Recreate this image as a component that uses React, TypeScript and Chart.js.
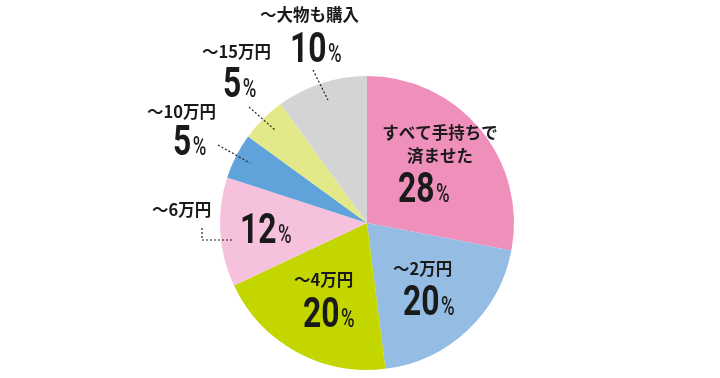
import React, { useEffect, useRef } from "react";
import { Chart, registerables } from "chart.js";

Chart.register(...registerables);

const categories = ["すべて手持ちで済ませた", "～2万円", "～4万円", "～6万円", "～10万円", "～15万円", "～大物も購入"];
const values = [28, 20, 20, 12, 5, 5, 10];
const colors = ["#ef8fbc", "#95bde4", "#c3d600", "#f5c1dc", "#5fa3da", "#e3e889", "#d3d4d6"];

// label layout relative to pie centre (pixels)
const labelLayout = [
  { lines: ["すべて手持ちで", "済ませた"], lx: 73, ly: -90, align: "center", lh: 23, nx: 31, ny: -21, path: null },
  { lines: ["～2万円"], lx: 26, ly: 46, align: "left", lh: 0, nx: 36, ny: 92, path: null },
  { lines: ["～4万円"], lx: -73, ly: 57, align: "left", lh: 0, nx: -64, ny: 104, path: null },
  { lines: ["～6万円"], lx: -215, ly: -13, align: "left", lh: 0, nx: -127, ny: 20, path: [[-165, 5], [-165, 17], [-135, 17]] },
  { lines: ["～10万円"], lx: -220, ly: -111, align: "left", lh: 0, nx: -194, ny: -68, path: [[-149, -78], [-117, -60]] },
  { lines: ["～15万円"], lx: -165, ly: -171, align: "left", lh: 0, nx: -144, ny: -126, path: [[-118, -116], [-92, -93]] },
  { lines: ["～大物も購入"], lx: -107, ly: -208, align: "left", lh: 0, nx: -77, ny: -161, path: [[-54, -153], [-39, -123]] },
];

const NUM_FONT = "bold 43px Roboto, sans-serif";
const PCT_FONT = "500 25px Roboto, sans-serif";
const JP_FONT = "bold 16.5px 'Noto Sans CJK JP', sans-serif";

const labelPlugin = {
  id: "pieLabels",
  afterDatasetsDraw(chart: any) {
    const ctx = chart.ctx;
    const meta = chart.getDatasetMeta(0);
    const arc = meta.data[0];
    if (!arc) return;
    const cx = arc.x;
    const cy = arc.y;
    ctx.save();
    ctx.fillStyle = "#1a1a1a";
    labelLayout.forEach((l, i) => {
      ctx.font = JP_FONT;
      ctx.textAlign = l.align;
      ctx.textBaseline = "middle";
      l.lines.forEach((t, k) => {
        ctx.fillText(t, cx + l.lx, cy + l.ly + k * l.lh);
      });
      const num = String(values[i]);
      ctx.textAlign = "left";
      ctx.textBaseline = "alphabetic";
      ctx.font = NUM_FONT;
      ctx.save();
      ctx.translate(cx + l.nx, cy + l.ny);
      ctx.scale(0.74, 1);
      ctx.fillText(num, 0, 0);
      const w = ctx.measureText(num).width;
      ctx.font = PCT_FONT;
      ctx.fillText("%", w + 2, 0);
      ctx.restore();
      if (l.path) {
        ctx.save();
        ctx.strokeStyle = "#222";
        ctx.lineWidth = 1.2;
        ctx.setLineDash([2, 2]);
        ctx.beginPath();
        l.path.forEach((p, j) => {
          if (j === 0) ctx.moveTo(cx + p[0], cy + p[1]);
          else ctx.lineTo(cx + p[0], cy + p[1]);
        });
        ctx.stroke();
        ctx.restore();
      }
    });
    ctx.restore();
  },
};

export default function App() {
  const ref = useRef<HTMLCanvasElement | null>(null);
  useEffect(() => {
    document.body.style.margin = "0";
    const chart = new Chart(ref.current as HTMLCanvasElement, {
      type: "pie",
      data: {
        labels: categories,
        datasets: [
          {
            data: values,
            backgroundColor: colors,
            borderWidth: 0,
          },
        ],
      },
      options: {
        animation: false,
        responsive: false,
        layout: { padding: { left: 220, right: 206, top: 76, bottom: 8 } },
        plugins: {
          legend: { display: false },
          tooltip: { enabled: false },
        },
      },
      plugins: [labelPlugin],
    });
    return () => chart.destroy();
  }, []);
  return (
    <div style={{ width: 720, height: 378, background: "#fff" }}>
      <canvas ref={ref} width={720} height={378} />
    </div>
  );
}
